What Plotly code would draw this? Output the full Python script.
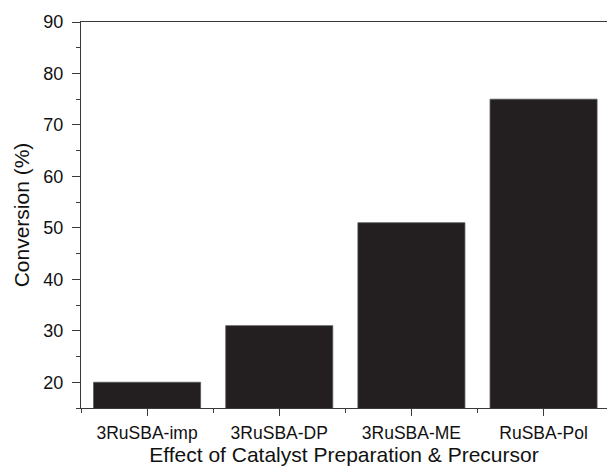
import plotly.graph_objects as go

# Catalyst samples and their measured conversion
categories = ["3RuSBA-imp", "3RuSBA-DP", "3RuSBA-ME", "RuSBA-Pol"]
conversion = [20, 31, 51, 75]

font_family = "Arial, 'Liberation Sans', Helvetica, sans-serif"
axis_color = "#3a3a3a"

positions = list(range(len(categories)))

fig = go.Figure(
    go.Bar(
        x=positions,
        y=conversion,
        width=0.81,
        marker=dict(color="#231f20", line=dict(color="#555555", width=0.8)),
    )
)

fig.update_layout(
    width=607,
    height=468,
    margin=dict(l=81, r=0, t=22, b=60),
    paper_bgcolor="white",
    plot_bgcolor="white",
    showlegend=False,
    font=dict(family=font_family, size=18, color="#111111"),
)

fig.update_xaxes(
    range=[-0.5, 3.48],
    tickmode="array",
    tickvals=positions,
    ticktext=categories,
    ticks="outside",
    ticklen=7,
    tickwidth=1.3,
    tickcolor=axis_color,
    minor=dict(tickmode="array", tickvals=[-0.5, 0.5, 1.5, 2.5], ticks="outside",
               ticklen=4, tickwidth=1.3, tickcolor=axis_color, showgrid=False),
    showline=True,
    linecolor=axis_color,
    linewidth=1.3,
    mirror=True,
    showgrid=False,
    zeroline=False,
    tickfont=dict(size=17.5),
    ticklabelstandoff=2,
    title=dict(text="Effect of Catalyst Preparation & Precursor",
               font=dict(size=21), standoff=3),
)

fig.update_yaxes(
    range=[15, 90],
    tick0=0,
    dtick=10,
    ticks="outside",
    ticklen=8,
    tickwidth=1.3,
    tickcolor=axis_color,
    minor=dict(tick0=0, dtick=5, ticks="outside", ticklen=4, tickwidth=1.3,
               tickcolor=axis_color, showgrid=False),
    showline=True,
    linecolor=axis_color,
    linewidth=1.3,
    mirror=False,
    showgrid=False,
    zeroline=False,
    tickfont=dict(size=18),
    ticklabelstandoff=5,
    title=dict(text="Conversion (%)", font=dict(size=21), standoff=7),
)

fig.write_html("out.html")
